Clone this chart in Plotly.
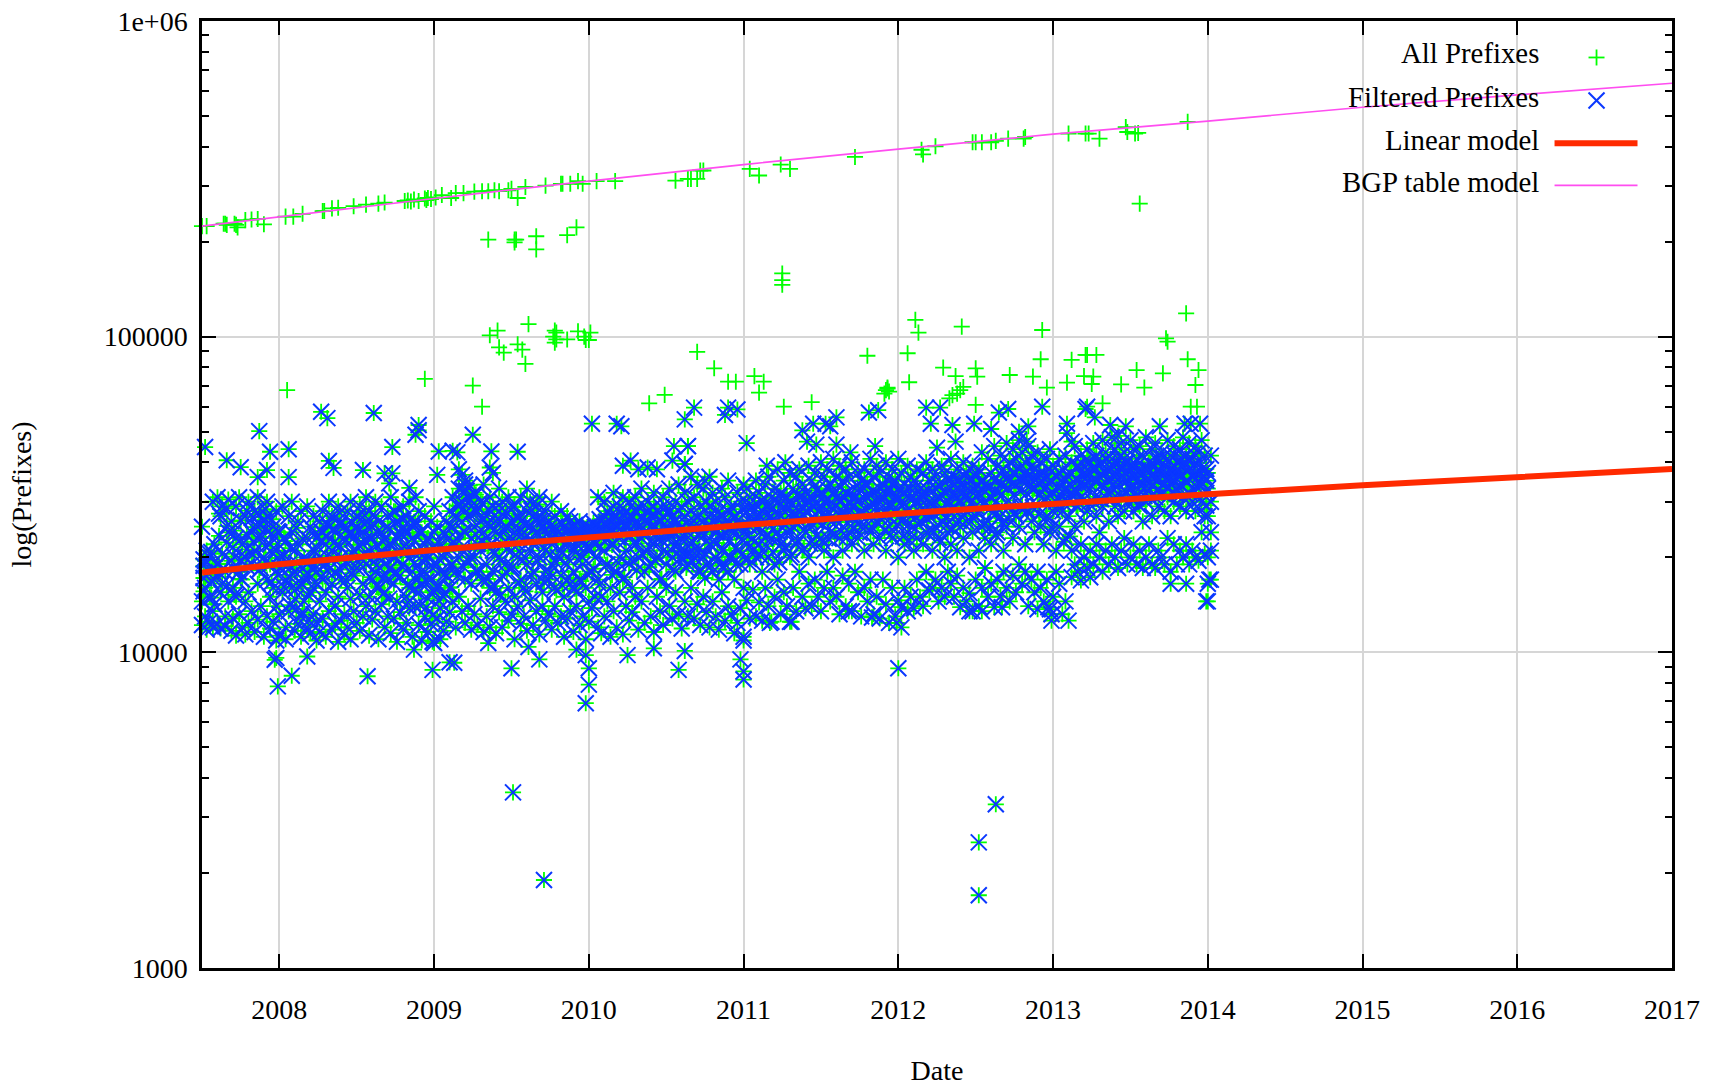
import plotly.graph_objects as go

# Dates are decimal years; prefix counts.
cloud_years = [
2007.50,2007.52,2007.53,2007.55,2007.57,2007.58,2007.60,2007.62,2007.63,2007.65,2007.67,2007.69,2007.70,2007.72,2007.74,2007.76,2007.78,2007.80,2007.82,2007.84,
2007.86,2007.88,2007.90,2007.92,2007.94,2007.96,2007.98,2008.00,2008.02,2008.04,2008.06,2008.08,2008.10,2008.12,2008.14,2008.16,2008.18,2008.20,2008.22,2008.24,
2008.26,2008.28,2008.30,2008.32,2008.34,2008.36,2008.38,2008.40,2008.42,2008.44,2008.46,2008.48,2008.50,2008.52,2008.54,2008.56,2008.58,2008.60,2008.62,2008.64,
2008.66,2008.68,2008.70,2008.72,2008.74,2008.76,2008.78,2008.80,2008.82,2008.84,2008.86,2008.88,2008.90,2008.92,2008.94,2008.96,2008.98,2009.00,2009.02,2009.04,
2009.06,2009.08,2009.10,2009.12,2009.14,2009.16,2009.18,2009.20,2009.22,2009.24,2009.26,2009.28,2009.30,2009.32,2009.34,2009.36,2009.38,2009.40,2009.42,2009.44,
2009.46,2009.48,2009.50,2009.52,2009.54,2009.56,2009.58,2009.60,2009.62,2009.64,2009.66,2009.68,2009.70,2009.72,2009.74,2009.76,2009.78,2009.80,2009.82,2009.84,
2009.86,2009.88,2009.90,2009.92,2009.94,2009.96,2009.98,2010.00,2010.02,2010.04,2010.06,2010.08,2010.10,2010.12,2010.14,2010.16,2010.18,2010.20,2010.22,2010.24,
2010.26,2010.28,2010.30,2010.32,2010.34,2010.36,2010.38,2010.40,2010.42,2010.44,2010.46,2010.48,2010.50,2010.52,2010.54,2010.56,2010.58,2010.60,2010.62,2010.64,
2010.66,2010.68,2010.70,2010.72,2010.74,2010.76,2010.78,2010.80,2010.82,2010.84,2010.86,2010.88,2010.90,2010.92,2010.94,2010.96,2010.98,2011.00,2011.02,2011.04,
2011.06,2011.08,2011.10,2011.12,2011.14,2011.16,2011.18,2011.20,2011.22,2011.24,2011.26,2011.28,2011.30,2011.32,2011.34,2011.36,2011.38,2011.40,2011.42,2011.44,
2011.46,2011.48,2011.50,2011.52,2011.54,2011.56,2011.58,2011.60,2011.62,2011.64,2011.66,2011.68,2011.70,2011.72,2011.74,2011.76,2011.78,2011.80,2011.82,2011.84,
2011.86,2011.88,2011.90,2011.92,2011.94,2011.96,2011.98,2012.00,2012.02,2012.04,2012.06,2012.08,2012.10,2012.12,2012.14,2012.16,2012.18,2012.20,2012.22,2012.24,
2012.26,2012.28,2012.30,2012.32,2012.34,2012.36,2012.38,2012.40,2012.42,2012.44,2012.46,2012.48,2012.50,2012.52,2012.54,2012.56,2012.58,2012.60,2012.62,2012.64,
2012.66,2012.68,2012.70,2012.72,2012.74,2012.76,2012.78,2012.80,2012.82,2012.84,2012.86,2012.88,2012.90,2012.92,2012.94,2012.96,2012.98,2013.00,2013.02,2013.04,
2013.06,2013.08,2013.10,2013.12,2013.14,2013.16,2013.18,2013.20,2013.22,2013.24,2013.26,2013.28,2013.30,2013.32,2013.34,2013.36,2013.38,2013.40,2013.42,2013.44,
2013.46,2013.48,2013.50,2013.52,2013.54,2013.56,2013.58,2013.60,2013.62,2013.64,2013.66,2013.68,2013.70,2013.72,2013.74,2013.76,2013.78,2013.80,2013.82,2013.84,
2013.86,2013.88,2013.90,2013.92,2013.94,2013.96,2013.98,2014.00,2014.02,
]
cloud_counts = [
[25,14.5,12.2],[19.5,16,13],[21,17.5,11.8],[20,15,12.5],[30,18.5,13.5,12],[22,17,14.2],[31,19,12.3],[27,15.5,11.9],[29,20.5,16.5],[18,13,12.1],[30.5,24,14.5],[26,19.5,11.7],[21.5,16,12.8],[29,23,15,11.3],[31,18,13.2],[22,17,12],[27,20,14.5,11.4],[30,15.5,12.4],[24,19,13.5],[28,21,11.6],
[31,25,16.5,12.7],[23,18.5,14],[26,20,11.2],[30,27,17,13],[22,19,15,11.9],[25,16,12.5],[28,21,14,10.9],[24,18.5,13.2,11.3],[29,20,15.5],[22.5,17,12,11],[27,19,13.5],[30,24,16],[21,18,14.8,11.7],[26,22,12.3],[28,16.5,13,11.2],[20,17.5,14.5],[29,23,19,12],[25,15.5,11.5],[27,21,16,13.2],[23,18,12.5,10.9],
[26,20,14.5,11.6],[28,24,17,12.8],[22,19,15.5,11.2],[30,25,13.5],[27,21,16.5,11.8],[24,18,14,12.3],[29,22,15,10.8],[26,20,17,12.6],[25,23,13.2,11.4],[28,19,16,12],[30,24,14.8,11],[23,21,17.5,13.5],[27,25,18.5,12.4],[29,20,15.2,11.7],[24,22,16.5,13],[31,26,19,14],[28,21,15,11.3],[25,23,17,12.7],[30,27,18,13.5],[26,20,16,11],
[29,24,21,14.2],[23,19,15.5,12],[27,25,17,13],[31,22,18.5,11.5],[28,20,16.5,12.8],[26,23,14.5,10.8],[24,21,17.5,13.4],[29,25,19,11.8],[27,22,15,12.4],[30,20,16,13.8],[25,23,18,11.2],[31,26,17,14],[28,21,15.5,12.2],[24,19.5,16.5,10.9],[27,22,18,13],[23,20,14.8,11.6],[26,21,17,12.3],[29,24,15.5,10.7],[25,19,16,12.8],[22,18,13.8,11],
[24,20,15,11.7],[26,21,17.5,12.5],[28,23,16,13.4],[31,25,19,14.5],[27,22,18,12],[33,29,20,15],[30,26,21,13.5],[34,24,17,12.4],[31,27,19.5,14],[29,23,16.5,11.8],[32,25,20,13.2],[28,22,18,12.2],[30,26,21,14.8],[34,24,17,11.6],[27,23,19,13],[31,25,16,12],[29,21,18,14],[26,24,15.5,11.5],[33,28,20,13.4],[30,22,17.5,12],
[28,25,19,14.5],[31,23,16,12.6],[26,21,18.5,13.2],[29,24,15,11],[27,22,20,14],[31,26,17,12.3],[24,23,16,13],[33,28,19,11.7],[30,25,21,14.6],[27,22,18,12.2],[29,24,16.5,13.5],[31,26,20,11.4],[25,23,15.5,14],[28,21,18,12.6],[26,24,17,13.2],[30,22,19,11.8],[27,25,16,14],[24,23,20,12.4],[28,21,17.5,13],[25,22,15,11.2],
[27,24,19,12.8],[26,23,16.5,13.5],[25,21,18,11.6],[24,22,15.5,14],[26,23,17,12.2],[25,20,19,13],[24,22,16,11],[25,21,14.5,12.5],[24,23,18,13.8],[25,22,20,15],[31,24,17,12],[26,23,15,11.5],[30,27,21,13],[28,25,19,14.5],[26,24,16,11.2],[32,29,22,13.5],[27,25,18,12],[29,26,20,15.5],[31,24,17,11.4],[28,25,21,14],
[30,26,19,12.6],[27,24,16,13.4],[31,28,22,15],[29,25,20,11.8],[33,27,23,14.5],[26,24,18,12.4],[30,28,21,16],[27,25,19,13],[32,29,22,11.6],[28,24,20,15],[26,23,17,13.5],[31,27,21,12.2],[29,25,19,16],[33,28,23,14],[27,24,20,12.8],[30,26,18,15.5],[34,28,22,13.2],[29,25,20,11.9],[32,27,21,14.5],[30,24,19,13],
[36,28,22,16],[31,26,20,12.8],[34,27,21,14.2],[29,24,18,12.2],[33,26,20,15],[30,25,19,13.4],[36,29,22,12],[32,26,18,14.5],[30,24,20,13],[28,25,17,11.8],[33,27,21,15.5],[31,24,19,12.6],[35,28,18,14],[29,25,20,13.2],[27,24,17,11.5],[32,26,21,12.4],[30,25,19,13.8],[34,24,16,11.2],[33,28,22,14.6],[31,25,19,12.8],
[29,26,21,15.8],[35,27,20,13],[32,25,22,14.4],[30,28,18,12.6],[34,26,23,16],[36,29,20,14],[31,27,23,12.5],[33,26,19,15],[38,30,24,17],[32,27,22,13.2],[35,29,21,15.5],[31,26,24,14],[37,30,20,12.5],[33,28,25,16],[36,27,22,13.5],[38,31,26,18],[34,29,21,15],[32,28,24,13.8],[39,30,20,16.5],[35,31,25,14],
[37,29,22,17],[33,28,26,15],[40,32,23,13.5],[36,30,21,16],[38,33,27,18],[34,29,24,14.5],[41,32,20,16],[36,31,26,15],[39,30,23,13.2],[35,28,21,17.5],[38,32,27,14],[36,30,24,16.5],[40,29,22,13.5],[33,31,26,18],[37,30,23,15.5],[35,28,25,13],[38,33,21,16],[34,31,27,14.5],[41,29,24,17],[36,32,22,13.2],
[39,30,26,15],[37,33,23,12.8],[34,31,27,17],[40,32,21,14.2],[36,29,25,12.4],[38,34,23,16],[35,31,28,13],[41,33,20,14.6],[37,30,26,12],[34,32,22,16],[39,28,24,13.5],[36,33,27,15],[35,31,21,13.8],[38,30,23,17],[33,29,26,15],[37,31,22,14],[40,32,24,18],[35,30,27,15.7],[38,29,21,16],[36,33,25,17],
[34,31,23,14.5],[39,28,26,16],[37,32,20,15],[35,30,24,18],[41,33,22,16.5],[36,29,27,15],[38,31,21,17.5],[34,30,25,13.9],[40,32,23,16],[37,28,26,14.5],[35,31,20,15.4],[39,33,24,13.5],[36,29,27,17],[38,32,21,14],[43,35,25,16],[34,30,23,18.5],[41,33,26,15],[37,31,22,16.5],[45,35,28,13.9],[39,32,24,17],
[42,34,27,15],[38,36,21,18],[46,33,25,16],[40,35,29,14.5],[44,37,23,17.5],[41,34,27,15.5],[47,38,25,19],[43,35,29,16.5],[40,37,22,18],[45,36,28,14],[42,34,26,17],[38,33,24,15.5],[43,36,29,18],[40,35,25,16],[37,33,22,14.5],[41,31,27,17],[44,35,24,13.7],[39,32,28,15],[36,30,21,18],[41,33,25,16.5],
[38,31,28,13.2],[42,35,23,14.5],[36,30,27,12.6],[40,32,21,17.3],[45,33,25,19],[39,35,29,18],[42,31,22,16.9],[37,34,26,20],[44,36,28,18.5],[40,33,21,17.3],[46,38,30,19],[42,35,27,22],[39,36,24,20],[47,34,29,18],[43,37,31,21],[40,35,26,19],[48,38,32,22],[44,36,29,20],[41,34,27,18.5],[46,39,31,21],
[43,37,28,23],[40,35,30,19],[47,38,33,20],[44,36,28,22],[41,39,31,19],[45,34,29,21],[42,37,26,18.5],[48,35,30,20],[40,38,33,22],[44,36,27,19],[46,39,31,18.5],[41,35,29,21],[43,37,32,20],[39,34,28,19],[47,36,31,23],[42,38,27,18],[45,35,30,22],[40,37,33,19],[44,36,29,21],[48,39,31,20],
[42,35,28,16.5,22],[46,38,32,19],[41,36,30,21],[45,37,28,20],[43,35,33,19.5],[47,38,30,24],[42,36,27,20.5],[37,33,27,20,14.5],[42,30,24,21,17],
]

# Second pass over the solid core of the cloud, offset from the columns above.
core_years = [
2007.51,2007.56,2007.61,2007.66,2007.71,2007.75,2007.79,2007.83,2007.87,2007.91,2007.95,2007.99,2008.03,2008.07,2008.11,2008.15,2008.19,2008.23,2008.27,2008.31,
2008.35,2008.39,2008.43,2008.47,2008.51,2008.55,2008.59,2008.63,2008.67,2008.71,2008.75,2008.79,2008.83,2008.87,2008.91,2008.95,2008.99,2009.03,2009.07,2009.11,
2009.15,2009.19,2009.23,2009.27,2009.31,2009.35,2009.39,2009.43,2009.47,2009.51,2009.55,2009.59,2009.63,2009.67,2009.71,2009.75,2009.79,2009.83,2009.87,2009.91,
2009.95,2009.99,2010.03,2010.07,2010.11,2010.15,2010.19,2010.23,2010.27,2010.31,2010.35,2010.39,2010.43,2010.47,2010.51,2010.55,2010.59,2010.63,2010.67,2010.71,
2010.75,2010.79,2010.83,2010.87,2010.91,2010.95,2010.99,2011.03,2011.07,2011.11,2011.15,2011.19,2011.23,2011.27,2011.31,2011.35,2011.39,2011.43,2011.47,2011.51,
2011.55,2011.59,2011.63,2011.67,2011.71,2011.75,2011.79,2011.83,2011.87,2011.91,2011.95,2011.99,2012.03,2012.07,2012.11,2012.15,2012.19,2012.23,2012.27,2012.31,
2012.35,2012.39,2012.43,2012.47,2012.51,2012.55,2012.59,2012.63,2012.67,2012.71,2012.75,2012.79,2012.83,2012.87,2012.91,2012.95,2012.99,2013.03,2013.07,2013.11,
2013.15,2013.19,2013.23,2013.27,2013.31,2013.35,2013.39,2013.43,2013.47,2013.51,2013.55,2013.59,2013.63,2013.67,2013.71,2013.75,2013.79,2013.83,2013.87,2013.91,
2013.95,2013.99,
]
core_counts = [
[18.8,17.2,15.6,19.7],[16.8,18.2,20.8,14.9],[27.5,23.4,17.9,19.1],[28.6,25.1,22.3,16.3],[18.3,20.1,15.2,24.3],[26.2,22.8,19.6,17.1],[23.6,21.2,18.7,28.1],[24.9,22.4,20.4,26.8],[27.4,25.4,23.2,18.2],[21.7,19.3,24.6,28.4],[26.4,23.8,16.7,20.7],[22.1,19.9,17.6,24.2],[18.9,16.1,20.3,23.1],[21.4,14.1,17.3,18.6],[19.2,15.9,13.7,24.8],[16.4,18.4,22.9,13.4],[19.4,17.7,15.1,12.6],[20.9,18.9,16.6,23.7],[22.6,19.2,24.1,17.4],[25.6,23.3,20.2,18.1],
[26.6,24.7,22.2,19.8],[27.7,25.3,21.6,18.3],[24.4,22.7,19.4,16.9],[25.8,23.9,20.6,17.8],[26.9,24.2,21.9,19.3],[27.2,25.5,22.6,20.4],[25.2,23.1,19.7,17.3],[24,21.8,18.9,16.2],[22.4,20.3,17.2,15.3],[24.6,22,18.4,14.8],[27.9,25.7,20,17.6],[26.5,23.5,21.3,18.8],[23.9,21.1,16.4,14.4],[25.9,22.5,19.1,15.8],[24.1,20.7,17.9,14.1],[22.8,19.6,16.8,13.9],[21.5,18.5,15.7,13.1],[22.3,19.8,16.3,14.6],[23.7,20.8,17.7,15.4],[24.8,22.1,19,16.1],
[29.2,26.7,22.8,17.4],[32.5,28.6,24.2,18.6],[33.8,30.4,27.4,20.1],[31.6,28.1,23.6,18.1],[29.6,26.3,22.4,16.9],[28.4,25.6,21.7,17.1],[27.1,24.5,20.6,16.2],[26.1,23.4,19.5,15.2],[27.6,24.9,21.2,17.8],[28.8,25.8,22.9,18.7],[26.8,24,20.9,16.6],[25.4,23,19.9,15.6],[28.2,25.2,22.7,17.5],[29.4,26.9,23.8,19.4],[26.3,24.3,21.4,16.7],[25.1,22.9,20.5,17.9],[24.7,23.6,19.2,15.7],[25.6,23.2,20.8,16.3],[24.5,22.6,19.7,17.2],[25.3,23.7,21.1,15.9],
[24.2,23,20.2,16.8],[24.9,23.5,21.6,17.7],[25.7,24.4,22.2,18.4],[26.4,24.8,21.5,16.4],[25.9,24.1,22.8,18.9],[26.7,24.6,21.9,17.6],[26.2,25,23.1,19.2],[27.3,25.4,22.5,17.3],[26.8,24.7,23.3,19.7],[27.8,25.5,22.1,18.2],[26.6,24.9,23.6,20.4],[28.3,25.9,21.7,18.6],[27,25.1,23.2,19.5],[28.9,26.1,22.6,17.1],[27.4,24.3,23.9,20.7],[26,23.8,21.8,18.3],[24.5,23.1,21,19.9],[25.6,22.8,20.3,18.5],[24.8,22.4,20.9,19.4],[25.2,23.4,21.3,18.1],
[26.3,23.7,20.6,17.2],[27.2,24.7,21.9,18.8],[26.5,24.1,22.2,19.6],[25.5,23.3,21.1,18.4],[27.7,24.4,22.7,20.1],[26.9,24.9,21.4,19],[28.4,25.3,22.9,20.5],[29.1,26.2,23.4,19.8],[28.1,25.7,22.4,21.2],[30.2,26.8,24.1,20.2],[29.3,27.1,23.5,21.7],[28.7,26.4,24.6,20.8],[31.1,27.4,23.1,19.3],[30.4,27.8,25.2,21.6],[29.6,26.6,24.3,20.4],[31.7,28.2,25.6,22.6],[30.8,27.3,24.4,21.3],[29.9,28.4,25.9,22.1],[32.6,29.4,26.1,23.4],[31.4,28.7,25.4,22.4],
[30.6,27.9,26.3,22.9],[32.2,29.1,26.6,23.7],[33.4,30.1,27.2,24.2],[31.9,28.9,25.8,23.2],[30.9,29.2,26.9,24.6],[33.1,30.5,27.6,23.9],[34.2,31.3,28.3,25.1],[32.4,29.7,27.1,24.9],[31.2,30.3,28.1,25.6],[33.7,30.7,27.7,24.4],[32.8,29.8,26.7,23.6],[31.5,30.2,27.9,25.3],[32.1,29.6,26.2,23.3],[30.7,28.6,25.5,22.7],[33.3,29.9,26.8,24.7],[31.8,30.6,27.5,25.8],[32.7,28.8,26.4,23.8],[30.3,29.3,27.3,24.1],[33.6,30.9,28.2,22.3],[32.3,29.5,26.5,25.2],
[34.6,31.6,28.5,24.5],[35.4,32.9,30.1,26.2],[36.2,33.6,30.8,27.1],[35.1,32.4,29.8,25.9],[36.6,33.9,31.2,27.7],[34.9,32.6,29.3,25.4],[33.2,31.1,28.4,24.8],[32.5,30,27.4,23.5],[34.3,31.7,28.9,25.7],[35.7,33.2,30.3,26.4],[37.2,34.4,31.5,27.6],[38.4,35.2,32.3,28.6],[37.6,34.8,31.9,27.9],[39.1,35.8,32.7,28.8],[36.8,34.1,31.4,27.3],[35.3,33,30.5,26.7],[37.4,34.6,32.2,24.8],[36.1,33.5,30.9,28.2],[35.8,32.8,29.6,22.4],[36.9,33.7,31.8,23.3],
[38.7,35.6,32.5,29.1],[39.6,36.4,33.4,30.2],[40.4,37.3,34.3,29.7],[41.2,38.1,34.9,31.1],[39.9,36.9,33.8,30.6],[40.9,37.8,35.1,32.1],[38.9,36.2,34.2,30.8],[41.7,38.6,35.5,31.6],[40.1,37.1,34.7,32.4],[39.3,36.7,33.1,30.4],[37.7,35.4,32.8,29.4],[38.2,35.9,33.3,31.3],[39.4,36.3,34.5,30.9],[40.7,37.6,35.3,32.6],[41.4,38.3,34.1,31.8],[40.3,37.9,35.7,33.2],[42.1,38.8,35.8,32.9],[41.1,39.2,36.6,33.5],[40.6,37.4,34.6,31.2],[42.6,39.4,36.1,32.7],
[39.8,36.5,33.9,30.7],[38.1,35,32,29.2],
]
outlier_years = [
2007.52,2007.66,2007.75,2007.87,2007.94,2008.06,2007.92,2007.86,2008.06,2008.27,2008.31,2008.61,2008.90,2008.90,2008.88,2008.32,2008.35,2008.54,2008.73,2008.68,2008.73,2008.71,2008.84,2009.03,2009.02,
2009.12,2009.25,2009.15,2009.37,2009.54,2009.16,2009.18,2009.20,2009.38,2009.36,2009.21,
2007.97,2007.98,2008.08,2007.99,2008.18,2008.57,2008.87,2008.99,2009.10,2008.99,2009.13,2009.50,2009.68,2009.61,2010.25,2010.62,2010.58,2010.42,2009.98,2010.00,2010.00,2009.98,2009.92,2009.35,
2010.02,2010.18,2010.21,2010.62,2010.68,2010.55,2010.64,2010.54,2010.62,2010.22,2010.27,2010.32,2010.38,2010.44,2010.75,
2010.88,2010.90,2010.96,2011.02,2010.64,2010.62,2011.15,2011.27,2011.38,2011.45,2011.53,2011.60,2011.56,2011.41,2011.47,2011.60,2011.69,2011.85,2011.81,2011.87,2012.18,2012.27,2012.21,2012.35,2012.49,2012.60,2012.65,2012.71,2012.93,2012.25,2012.37,2012.78,2012.84,2012.83,2013.09,2013.09,2013.12,2013.22,2013.21,2013.27,2013.37,2013.47,2013.42,2013.69,2013.89,2013.95,2013.85,
2010.98,2011.00,2011.00,2011.00,2012.00,2009.51,2009.71,2012.52,2012.52,2012.63,
2013.99,2014.00,2014.01,2013.76,2012.99,2012.99,2012.97,2012.90,2012.67,2012.54,2012.46,2011.99,2012.02,2011.83,2011.68,2011.31,2011.17,
]
outlier_counts = [
44.7,40.6,38.6,50.2,43.2,44,37.8,35.9,35.9,57.8,55.2,57.3,52.5,50.5,48.9,40.4,38.4,37.8,44.7,36.9,36.9,34.3,33.2,43.3,36.5,
43.5,48.9,43,43.3,43.2,38,36.5,35,37,38.5,32.5,
9.47,9.6,8.43,7.8,9.7,8.4,10.2,8.8,9.3,10.8,9.27,8.9,9.5,10.4,9.8,10.1,8.8,10.3,6.9,7.9,8.9,9.8,10.2,10.7,
53,53,52,54.7,59.6,45,45,40.5,39.5,39,40.5,38,38.5,38,35,
56.5,59.6,58.8,46,45,39.5,39,40,50.5,53,53,55.5,52,46.5,45.5,45.5,43,45,57.5,58.5,59.6,59.6,53,52.5,53,51,57.5,59,60,44.5,46.5,50,52,46.5,53,49.5,46.5,60,59,55.5,52.5,52,48.5,52,53,53,53,
9.5,8.7,8.2,10.9,8.9,3.6,1.9,2.5,1.7,3.3,
14.5,16.5,17,16.5,12.6,13.2,13.9,13.7,13.9,13.5,13.5,12.4,13.9,12.9,13.5,12.5,12.4,
]

# Points of "All Prefixes" that the filter removed (thousands of prefixes).
extra_years = [
2007.50,2007.53,2007.64,2007.65,2007.66,2007.71,2007.72,2007.73,2007.78,2007.82,2007.86,2007.90,2008.04,2008.09,2008.15,2008.28,2008.29,2008.34,2008.38,2008.48,2008.56,2008.64,2008.68,2008.81,2008.83,2008.85,2008.87,2008.90,2008.94,2008.95,2008.96,2008.98,2009.01,2009.05,2009.11,2009.14,2009.19,2009.26,2009.31,2009.35,2009.39,2009.42,2009.48,2009.50,2009.54,2009.59,2009.72,2009.82,2009.83,2009.88,2009.93,2009.96,2010.05,2010.17,2010.56,2010.64,2010.66,
2010.70,2010.72,2010.74,2011.04,2011.10,2011.24,2011.30,2011.72,2012.15,2012.16,2012.24,2012.48,2012.50,2012.54,2012.60,2012.63,2012.71,2012.81,2012.82,2013.10,2013.21,2013.23,2013.30,2013.47,2013.48,2013.53,2013.55,2013.87,2013.56,
2011.25,2011.25,2011.25,2009.35,2009.52,2009.53,2009.52,2009.66,2009.66,2009.86,2009.92,
2009.36,2009.41,2009.61,2009.42,2009.45,2009.54,2009.57,2009.59,2009.78,2009.79,2009.77,2009.79,2009.86,2009.78,2009.93,2009.97,2009.98,2010.01,2010.00,2010.70,
2008.94,2009.25,2009.31,2008.05,2010.39,2010.49,2010.81,2010.90,2010.95,2011.07,2011.13,2011.10,2011.26,2011.44,2011.80,2012.06,2012.11,2012.13,2012.07,2012.41,2012.29,2012.37,2012.50,2012.51,2012.50,2012.72,2012.87,2012.92,2012.93,2012.96,2013.09,2013.12,2013.21,2013.22,2013.28,2013.20,2013.26,2013.25,2013.32,2013.44,2013.54,2013.59,2013.71,2013.73,2013.74,2013.86,2013.87,2013.94,2013.92,2013.89,2013.93,
2011.92,2011.93,2011.94,2011.93,2011.91,2012.35,2012.40,2012.42,2012.33,2012.38,
]
extra_counts = [
224,224,228,228,226,228,226,222,234,235,236,227,240,240,245,250,250,255,256,259,262,264,266,269,270,268,272,269,274,271,275,273,276,281,275,285,285,288,289,289,291,289,291,294,275,298,301,305,305,305,311,305,311,311,312,316,316,
316,336,336,340,324,351,340,371,391,378,401,413,413,413,413,417,424,424,429,440,440,440,424,461,445,440,442,479,264,
158.6,151,146,203,203,203,199,208,189,209.6,222,
101,104.5,109.6,92.5,89,94.6,91,82,104.5,103,100,98,98,95.7,104,100,97.6,103,97.6,89.5,
73.5,70,60,67.7,61.5,65.4,79.4,72,72,75,72,66.5,60,62,87,88.6,113,103,71.7,107.6,79.8,75,79.4,74.7,60.8,75.6,74.7,84.8,105,69,71.5,84.4,87.5,87.5,87.5,75,74.7,70.8,61.5,70.6,78.4,69,76.5,98.8,96.4,118.5,84.8,78.4,70.3,60,60,
67.7,68.5,67,69,66,65.3,67.7,69.3,63.8,66,
]

linear_years = [2007.5,2008,2009,2010,2011,2012,2013,2014,2015,2016,2017]
linear_counts = [17900,19000,21100,23200,25300,27500,29600,31700,33800,35900,38100]
bgp_years = [2007.5,2008,2009,2010,2011,2012,2013,2014,2015,2016,2017]
bgp_counts = [224000,240000,274000,311000,351000,393000,438000,482000,533000,583000,635000]

year_ticks = list(range(2008, 2018))
decade_ticks = [1000, 10000, 100000, 1000000]
decade_labels = ["1000", "10000", "100000", "1e+06"]
minor_ticks = [m * d for d in (1000, 10000, 100000) for m in range(2, 10)]
legend_labels = ["All Prefixes", "Filtered Prefixes", "Linear model", "BGP table model"]

# Expand the columns read from the cloud, then add the isolated points.
filtered_x, filtered_y = [], []
for yrs, cols in ((cloud_years, cloud_counts), (core_years, core_counts)):
    for yr, vals in zip(yrs, cols):
        for v in vals:
            filtered_x.append(yr)
            filtered_y.append(v * 1000)
filtered_x += outlier_years
filtered_y += [v * 1000 for v in outlier_counts]
all_x = filtered_x + extra_years
all_y = filtered_y + [v * 1000 for v in extra_counts]

GREEN, BLUE, RED, MAGENTA = "#00ff00", "#0a37ff", "#ff2a00", "#ff4df0"
FONT = "Liberation Serif"
W, H = 1719, 1086
L, R, T, B = 202, 1672.5, 20.5, 968
px = lambda x: (x - L) / (R - L)
py = lambda y: (B - y) / (B - T)

fig = go.Figure()
fig.add_trace(go.Scatter(x=all_x, y=all_y, mode="markers", cliponaxis=False, showlegend=False,
    marker=dict(symbol="cross-thin", size=11.5, line=dict(color=GREEN, width=1.8))))
fig.add_trace(go.Scatter(x=filtered_x, y=filtered_y, mode="markers", cliponaxis=False, showlegend=False,
    marker=dict(symbol="x-thin", size=16, line=dict(color=BLUE, width=2))))
fig.add_trace(go.Scatter(x=linear_years, y=linear_counts, mode="lines", showlegend=False,
    line=dict(color=RED, width=6)))
fig.add_trace(go.Scatter(x=bgp_years, y=bgp_counts, mode="lines", showlegend=False,
    line=dict(color=MAGENTA, width=1.7)))

shapes = [
    dict(type="rect", xref="paper", yref="paper", x0=px(1340), x1=px(1640), y0=py(207), y1=py(34),
         fillcolor="white", line_width=0, layer="between"),
    dict(type="line", xref="paper", yref="paper", x0=px(1555), x1=px(1638), y0=py(142.7), y1=py(142.7),
         line=dict(color=RED, width=6)),
    dict(type="line", xref="paper", yref="paper", x0=px(1555), x1=px(1638), y0=py(185), y1=py(185),
         line=dict(color=MAGENTA, width=1.7)),
    dict(type="line", xref="paper", yref="paper", x0=px(1589), x1=px(1605), y0=py(57), y1=py(57),
         line=dict(color=GREEN, width=1.8)),
    dict(type="line", xref="paper", yref="paper", x0=px(1597), x1=px(1597), y0=py(49), y1=py(65),
         line=dict(color=GREEN, width=1.8)),
    dict(type="line", xref="paper", yref="paper", x0=px(1589), x1=px(1605), y0=py(92), y1=py(108),
         line=dict(color=BLUE, width=2)),
    dict(type="line", xref="paper", yref="paper", x0=px(1589), x1=px(1605), y0=py(108), y1=py(92),
         line=dict(color=BLUE, width=2)),
]
annotations = [
    dict(xref="paper", yref="paper", x=px(1541), y=py(yc), text=t, showarrow=False, xanchor="right",
         yanchor="middle", font=dict(family=FONT, size=28.8, color="black"))
    for t, yc in zip(legend_labels, (53, 96.5, 139.5, 182))
]

fig.update_layout(
    width=W, height=H, paper_bgcolor="white", plot_bgcolor="white",
    margin=dict(l=L, r=W - R, t=T, b=H - B, autoexpand=False),
    font=dict(family=FONT, size=28, color="black"),
    shapes=shapes, annotations=annotations,
    xaxis=dict(
        range=[2007.5, 2017], tickvals=year_ticks, ticktext=[str(y) for y in year_ticks],
        ticks="inside", ticklen=14, tickwidth=2, tickcolor="black",
        showline=True, linecolor="black", linewidth=2.5, mirror="allticks",
        showgrid=True, gridcolor="#d6d6d6", gridwidth=2, zeroline=False,
        ticklabelstandoff=15, tickfont=dict(family=FONT, size=28, color="black"),
        title=dict(text="Date", standoff=41, font=dict(family=FONT, size=28, color="black")),
    ),
    yaxis=dict(
        type="log", range=[3, 6], tickvals=decade_ticks, ticktext=decade_labels,
        ticks="inside", ticklen=14, tickwidth=2, tickcolor="black",
        showline=True, linecolor="black", linewidth=2.5, mirror="allticks",
        showgrid=True, gridcolor="#d6d6d6", gridwidth=2, zeroline=False,
        ticklabelstandoff=6, tickfont=dict(family=FONT, size=28, color="black"),
        minor=dict(tickvals=minor_ticks, ticks="inside", ticklen=7, tickwidth=2, tickcolor="black", showgrid=False),
        title=dict(text="log(Prefixes)", standoff=64, font=dict(family=FONT, size=28, color="black")),
    ),
)
fig.write_html("out.html", config={"displayModeBar": False},
               post_script="document.body.style.margin='0';document.documentElement.style.overflow='hidden';")
